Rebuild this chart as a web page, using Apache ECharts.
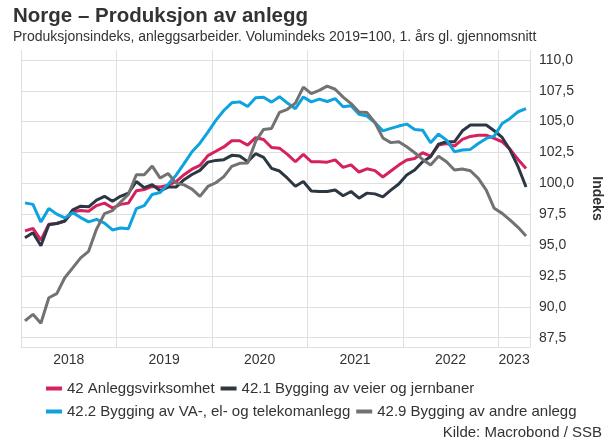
<!DOCTYPE html>
<html>
<head>
<meta charset="utf-8">
<script src="https://cdn.jsdelivr.net/npm/echarts@6/dist/echarts.min.js"></script>
<style>
  html, body { margin: 0; padding: 0; background: #fff; }
  #chart { width: 612px; height: 442px; }
</style>
</head>
<body>
<div id="chart"></div>
<script>
// månedlige verdier, jan 2018 - apr 2023 (x = månedsnr + 0.5)
const startYear = 2018;
const yearLabelPos = [6, 18, 30, 42, 54, 62];
const yearLines = [0, 12, 24, 36, 48, 60, 64];
const yTicks = [87.5, 90, 92.5, 95, 97.5, 100, 102.5, 105, 107.5, 110];

const anleggsvirksomhet = [
  96.15, 96.35, 95.4, 96.7, 96.75, 96.95, 97.7, 97.8, 97.75, 98.2, 98.4, 98.0,
  98.3, 98.4, 99.4, 99.5, 99.75, 99.7, 99.85, 100.15, 100.7, 101.15, 101.45, 102.25,
  102.6, 102.95, 103.45, 103.45, 103.1, 103.7, 103.55, 102.9, 102.85, 102.35, 101.75, 102.35,
  101.75, 101.75, 101.72, 101.9, 101.3, 101.5, 100.92, 101.18, 101.03, 100.52, 101.0, 101.48,
  101.89, 102.02, 102.48, 102.21, 103.1, 103.23, 103.02, 103.56, 103.8, 103.9, 103.9, 103.64,
  103.37, 102.75, 101.94, 101.2
];
const veierJernbaner = [
  95.6, 96.0, 94.95, 96.65, 96.75, 96.95, 97.85, 98.15, 98.1, 98.65, 98.95, 98.55,
  98.95, 99.2, 100.15, 99.65, 99.9, 99.4, 99.7, 99.7, 100.3, 100.72, 101.05, 101.72,
  101.86, 101.92, 102.27, 102.22, 101.76, 102.4, 102.1, 101.22, 101.0, 100.42, 99.77, 100.15,
  99.38, 99.34, 99.34, 99.47, 99.0, 99.34, 98.8, 99.21, 99.15, 98.9, 99.45, 99.95,
  100.67, 101.08, 101.75, 102.16, 103.18, 103.37, 103.37, 104.26, 104.72, 104.72, 104.72, 104.26,
  103.72, 102.7, 101.35, 99.7
];
const vaElTele = [
  98.42, 98.3, 96.87, 97.97, 97.51, 97.2, 97.63, 97.23, 96.88, 97.08, 96.78, 96.23,
  96.38, 96.33, 97.95, 98.2, 99.1, 99.26, 99.93, 100.66, 101.6, 102.56, 103.25, 104.15,
  105.1, 105.9, 106.52, 106.6, 106.23, 106.93, 106.97, 106.58, 107.02, 106.5, 106.05, 107.0,
  106.6, 106.82, 106.63, 106.86, 106.21, 106.28, 105.6, 105.45, 104.92, 104.25, 104.45, 104.64,
  104.8, 104.37, 104.31, 103.29, 103.99, 103.5, 102.56, 102.7, 102.75, 103.23, 103.64, 103.83,
  104.85, 105.26, 105.8, 106.06
];
const andreAnlegg = [
  88.86, 89.4, 88.67, 90.74, 91.07, 92.36, 93.16, 93.97, 94.5, 96.3, 97.55, 97.8,
  98.47, 99.1, 100.7, 100.7, 101.4, 100.43, 100.8, 100.02, 99.88, 99.53, 98.95, 99.75,
  100.05, 100.55, 101.38, 101.62, 101.65, 103.4, 104.37, 104.45, 105.75, 106.0, 106.5, 107.8,
  107.27, 107.53, 107.87, 107.62, 106.98, 106.46, 105.78, 105.73, 104.93, 103.68, 103.3, 103.37,
  102.96, 102.48, 101.94, 101.48, 102.2, 101.75, 101.08, 101.16, 101.02, 100.4, 99.46, 97.98,
  97.57, 97.03, 96.44, 95.74
];

const seriesDefs = [
  { name: '42 Anleggsvirksomhet', data: anleggsvirksomhet, color: '#d6215e' },
  { name: '42.1 Bygging av veier og jernbaner', data: veierJernbaner, color: '#2c3743' },
  { name: '42.2 Bygging av VA-, el- og telekomanlegg', data: vaElTele, color: '#0ea3df' },
  { name: '42.9 Bygging av andre anlegg', data: andreAnlegg, color: '#727272' },
];

const font = '"Liberation Sans", Arial, sans-serif';
const gridColor = '#dfdfdf';

const chart = echarts.init(document.getElementById('chart'), null, { renderer: 'canvas' });

const legendBase = {
  left: 46,
  icon: 'rect',
  itemWidth: 16,
  itemHeight: 4,
  itemGap: 6,
  padding: 0,
  textStyle: { fontFamily: font, fontSize: 15, color: '#333' },
};

const option = {
  animation: false,
  backgroundColor: '#fff',
  title: [
    {
      text: 'Norge – Produksjon av anlegg',
      left: 13, top: 6, padding: 0,
      textStyle: { fontFamily: font, fontSize: 20.5, fontWeight: 'bold', color: '#333' },
    },
    {
      text: 'Produksjonsindeks, anleggsarbeider. Volumindeks 2019=100, 1. års gl. gjennomsnitt',
      left: 13, top: 30, padding: 0,
      textStyle: { fontFamily: font, fontSize: 14, fontWeight: 'normal', color: '#333' },
    },
    {
      text: 'Kilde: Macrobond / SSB',
      right: 10, top: 425, padding: 0,
      textStyle: { fontFamily: font, fontSize: 15, fontWeight: 'normal', color: '#333' },
    },
  ],
  legend: [
    Object.assign({}, legendBase, { top: 381, data: [seriesDefs[0].name, seriesDefs[1].name] }),
    Object.assign({}, legendBase, { top: 404, data: [seriesDefs[2].name, seriesDefs[3].name] }),
  ],
  grid: { left: 21, right: 75, top: 50, bottom: 95, containLabel: false },
  xAxis: {
    type: 'value',
    min: 0,
    max: 64,
    axisLine: { show: true, lineStyle: { color: gridColor, width: 1 } },
    axisTick: { show: false, customValues: yearLines },
    splitLine: { show: true, lineStyle: { color: gridColor, width: 1 } },
    axisLabel: {
      customValues: yearLabelPos,
      margin: 6,
      fontFamily: font,
      fontSize: 14,
      color: '#333',
      formatter: (v) => String(startYear + Math.floor(v / 12)),
    },
  },
  yAxis: {
    type: 'value',
    position: 'right',
    min: 86.75,
    max: 110.8,
    name: 'Indeks',
    nameLocation: 'middle',
    nameRotate: -90,
    nameGap: 60,
    nameTextStyle: { fontFamily: font, fontSize: 14, fontWeight: 'bold', color: '#333' },
    axisLine: { show: false },
    axisTick: { show: false, customValues: yTicks },
    splitLine: { show: true, lineStyle: { color: gridColor, width: 1 } },
    axisLabel: {
      customValues: yTicks,
      margin: 9,
      fontFamily: font,
      fontSize: 14,
      color: '#333',
      formatter: (v) => v.toFixed(1).replace('.', ','),
    },
  },
  series: seriesDefs.map((s) => ({
    name: s.name,
    type: 'line',
    showSymbol: false,
    symbol: 'none',
    data: s.data.map((v, i) => [i + 0.5, v]),
    itemStyle: { color: s.color },
    lineStyle: { color: s.color, width: 3 },
  })),
};

chart.setOption(option);
</script>
</body>
</html>
